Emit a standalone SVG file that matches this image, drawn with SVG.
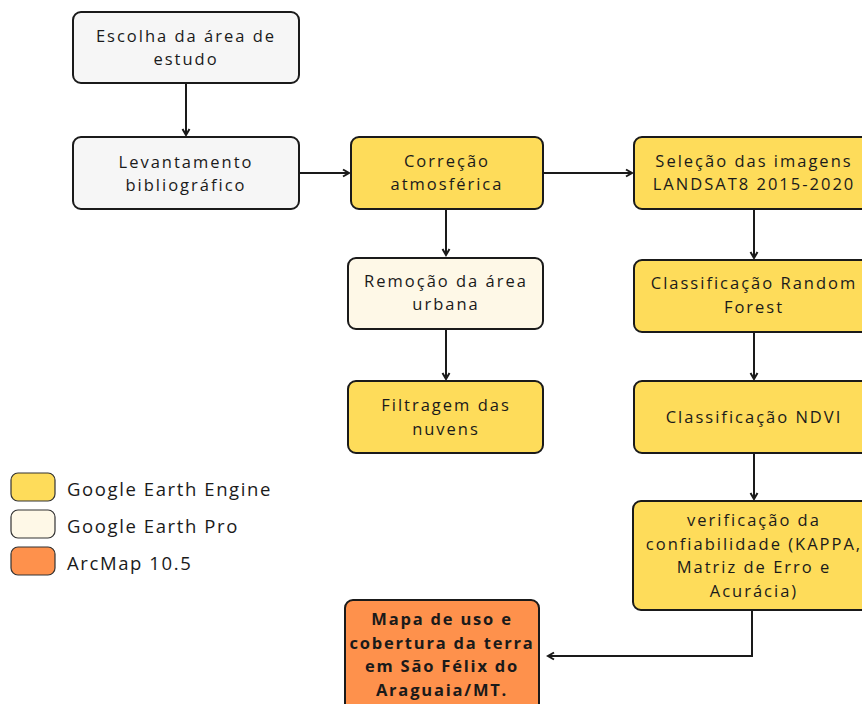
<svg xmlns="http://www.w3.org/2000/svg" width="862" height="704" viewBox="0 0 862 704">
<defs>
<marker id="arr" markerWidth="10" markerHeight="10" refX="8" refY="5" orient="auto" markerUnits="userSpaceOnUse">
<path d="M2,1.5 L8,5 L2,8.5" fill="none" stroke="#1a1a1a" stroke-width="2"/>
</marker>
<style>
.box{stroke:#1a1a1a;stroke-width:2}
.gray{fill:#F6F6F6}
.yel{fill:#FEDC5A}
.cream{fill:#FEF8E7}
.orng{fill:#FE914C}
text{font-family:"Open Sans","DejaVu Sans",sans-serif;font-size:16.5px;fill:#1a1a1a;text-anchor:middle;letter-spacing:2px}
.b{font-weight:bold;letter-spacing:1.8px}
.leg{text-anchor:start;font-size:18.5px;letter-spacing:1.6px}
.c{fill:none;stroke:#1a1a1a;stroke-width:2}
</style>
</defs>
<rect width="862" height="704" fill="#ffffff"/>
<g id="connectors">
<line class="c" x1="186" y1="84" x2="186" y2="135" marker-end="url(#arr)"/>
<line class="c" x1="299" y1="173" x2="349" y2="173" marker-end="url(#arr)"/>
<line class="c" x1="543" y1="173" x2="632" y2="173" marker-end="url(#arr)"/>
<line class="c" x1="446" y1="209" x2="446" y2="255" marker-end="url(#arr)"/>
<line class="c" x1="446" y1="329" x2="446" y2="379" marker-end="url(#arr)"/>
<line class="c" x1="754" y1="209" x2="754" y2="258" marker-end="url(#arr)"/>
<line class="c" x1="754" y1="332" x2="754" y2="379" marker-end="url(#arr)"/>
<line class="c" x1="754" y1="453" x2="754" y2="499" marker-end="url(#arr)"/>
<polyline class="c" points="752,610 752,656 548,656" marker-end="url(#arr)"/>
</g>
<g id="n1"><rect class="box gray" x="73" y="12" width="226" height="71" rx="8"/><text x="186" y="42">Escolha da área de</text><text x="186" y="65">estudo</text></g>
<g id="n2"><rect class="box gray" x="73" y="137" width="226" height="72" rx="8"/><text x="186" y="168">Levantamento</text><text x="186" y="191">bibliográfico</text></g>
<g id="n3"><rect class="box yel" x="351" y="137" width="192" height="72" rx="8"/><text x="447" y="167">Correção</text><text x="447" y="190">atmosférica</text></g>
<g id="n4"><rect class="box cream" x="348" y="258" width="195" height="71" rx="8"/><text x="446" y="287">Remoção da área</text><text x="446" y="310">urbana</text></g>
<g id="n5"><rect class="box yel" x="348" y="381" width="195" height="72" rx="8"/><text x="446" y="411">Filtragem das</text><text x="446" y="435">nuvens</text></g>
<g id="n6"><rect class="box yel" x="634" y="137" width="240" height="72" rx="8"/><text x="754" y="167">Seleção das imagens</text><text x="754" y="190">LANDSAT8 2015-2020</text></g>
<g id="n7"><rect class="box yel" x="634" y="260" width="240" height="72" rx="8"/><text x="754" y="289">Classificação Random</text><text x="754" y="313">Forest</text></g>
<g id="n8"><rect class="box yel" x="634" y="381" width="240" height="72" rx="8"/><text x="754" y="423">Classificação NDVI</text></g>
<g id="n9"><rect class="box yel" x="633" y="501" width="241" height="109" rx="8"/><text x="754" y="526">verificação da</text><text x="754" y="550">confiabilidade (KAPPA,</text><text x="754" y="573">Matriz de Erro e</text><text x="754" y="597">Acurácia)</text></g>
<g id="n10"><rect class="box orng" x="345" y="600" width="194" height="115" rx="8"/><text class="b" x="442" y="625">Mapa de uso e</text><text class="b" x="442" y="649">cobertura da terra</text><text class="b" x="442" y="672">em São Félix do</text><text class="b" x="442" y="696">Araguaia/MT.</text></g>
<g id="legend">
<rect x="11" y="473" width="44" height="28" rx="7" fill="#FEDC5A" stroke="#333" stroke-width="1.2"/>
<text class="leg" x="67" y="496">Google Earth Engine</text>
<rect x="11" y="510" width="44" height="28" rx="7" fill="#FEF8E7" stroke="#333" stroke-width="1.2"/>
<text class="leg" x="67" y="533">Google Earth Pro</text>
<rect x="11" y="547" width="44" height="28" rx="7" fill="#FE914C" stroke="#333" stroke-width="1.2"/>
<text class="leg" x="67" y="570">ArcMap 10.5</text>
</g>
</svg>
